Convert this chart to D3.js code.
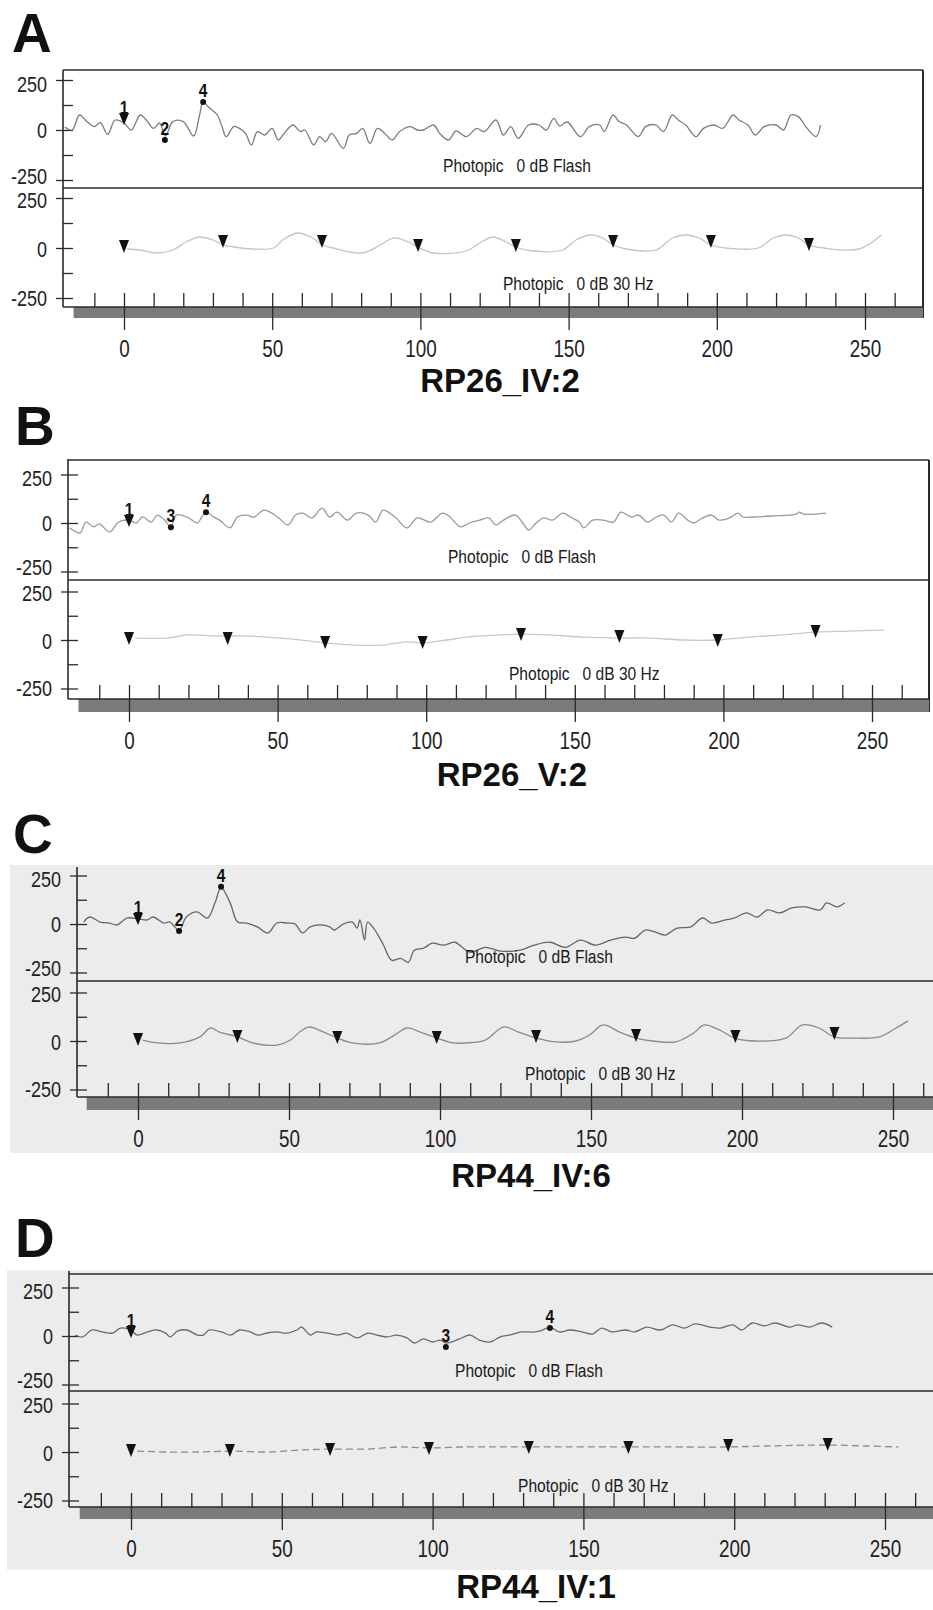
<!DOCTYPE html>
<html>
<head>
<meta charset="utf-8">
<script src="https://cdn.jsdelivr.net/npm/d3@7"></script>
<style>
  body { margin: 0; background: #fff; }
  svg { display: block; }
</style>
</head>
<body>
<svg id="fig" width="933" height="1610"></svg>
<script>
// ---- data: [time ms, amplitude uV] ----

// A  RP26_IV:2
const flashA = [[-20,15],[-17.5,0],[-15,75],[-12.5,42],[-10,17],[-8,37],[-5.5,-22],[-3,50],[0,35],[2.5,0],[5.5,75],[7.5,50],[10,8],[12,35],[14,-30],[16.5,42],[20,42],[23.5,-30],[25.5,75],[26.7,140],[28.5,115],[31.5,75],[33,20],[34.5,-33],[37,17],[39,8],[41,-17],[43,-75],[45,-8],[47.5,-25],[50,8],[52,-50],[54.5,-8],[57,25],[59.5,-8],[61,0],[64,-75],[66,-33],[68,-58],[70,-17],[74,-92],[76,-25],[78.5,-17],[80.5,8],[83,-67],[85.5,8],[88,-17],[90.5,-50],[93,-8],[96.5,17],[99,0],[101,0],[104.5,25],[106.5,-17],[109.5,-50],[112,-5],[115.5,-33],[119,8],[121.5,-8],[125.5,50],[128,-25],[130.5,17],[133,-42],[136.5,25],[140,25],[142.5,0],[145,58],[147,20],[149.5,40],[154,-33],[157,17],[160.5,25],[162,-8],[165,75],[167,42],[169.5,25],[173.5,-33],[176,17],[179.5,25],[182,-8],[185,75],[187,50],[189.5,25],[193,-33],[195.5,8],[199,25],[202,8],[205.5,75],[207.5,50],[210.5,25],[213,-25],[216,17],[220,25],[222.5,0],[225,75],[227.5,67],[230,17],[233.5,-33],[235,25]];
const flickerA = [[1,-5],[5.5,-10],[11,-25],[16.5,-10],[21,30],[25.5,55],[30,40],[33.5,15],[37,5],[43.5,-5],[50.5,0],[53.5,40],[58.5,75],[63,55],[67,15],[70.5,0],[80.5,-25],[86.5,15],[91,50],[96,30],[99,5],[104.5,-25],[115.5,-15],[120,25],[124.5,55],[129,30],[132,5],[138,-15],[148,-10],[152.5,40],[157,65],[161.5,50],[165,15],[169.5,-5],[179.5,-10],[185,50],[189.5,65],[194,50],[198,15],[203,0],[214,0],[219,50],[223.5,65],[227.5,50],[231,15],[236,0],[248,-5],[255.5,65]];
const flashMarksA = [["1",0,25,"tri"],["2",13.8,-50,"dot"],["4",26.7,140,"dot"]];
const flickerMarksA = [[0,-25],[33.4,0],[66.8,0],[99.2,-20],[132.2,-20],[165,0],[198,0],[231.1,-15]];

// B  RP26_V:2
const flashB = [[-20,-25],[-16.5,-51],[-14.5,5],[-12,-20],[-10,-5],[-6.5,-46],[-3.5,5],[0,15],[2.5,0],[4.5,31],[7.5,5],[9.5,41],[12,15],[14,-20],[16,41],[19.5,31],[23,0],[24.5,31],[26,56],[28.5,31],[30.5,15],[34,-25],[36.5,31],[39.5,41],[42,30],[45.5,66],[50,31],[53.5,-10],[56,41],[58.5,51],[61.5,26],[65,77],[67.5,31],[70,56],[73.5,15],[76.5,51],[80.5,41],[83,5],[85.5,66],[89.5,31],[93.5,-25],[97,26],[101.5,5],[105.5,51],[108,31],[111.5,-20],[114.5,0],[118,15],[121,26],[123.5,-10],[126,15],[130,41],[132.5,0],[134.5,-36],[137,0],[139.5,26],[142.5,15],[146,51],[148.5,31],[151.5,5],[153,-25],[156,15],[159.5,15],[163,5],[165.5,56],[169,31],[171.5,41],[174.5,5],[177.5,31],[180,41],[182.5,5],[185,51],[188,15],[190,0],[193,26],[196,41],[198.5,15],[202,26],[205,51],[206.5,31],[210,31],[216.5,36],[224.5,46],[225.5,56],[227,46],[234.5,51]];
const flickerB = [[2,10],[13,10],[19.5,26],[28.5,21],[33,20],[37.5,21],[46.5,15],[55,5],[66,-15],[75.5,-26],[85.5,-26],[93.5,-10],[99,-15],[107,0],[113.5,15],[124.5,26],[132,30],[141.5,26],[153,15],[165,10],[175,10],[186.5,0],[198,0],[208.5,15],[220,26],[231,41],[242.5,46],[254,51]];
const flashMarksB = [["1",0,-20,"tri"],["3",14.1,-22,"dot"],["4",25.9,56,"dot"]];
const flickerMarksB = [[0,-26],[33.2,-26],[66,-46],[98.8,-46],[131.9,-5],[165,-15],[198.1,-36],[231,10]];

// C  RP44_IV:6
const flashC = [[-18,10],[-16,36],[-12.5,10],[-9.5,5],[-7,-5],[-3.5,31],[0,26],[3,21],[5,36],[8.5,5],[10.5,10],[13.6,-31],[16,36],[19.5,62],[23,31],[25.5,109],[27.5,187],[30.5,109],[33,10],[36,5],[39.5,-15],[43,-46],[46,5],[49.5,5],[52,0],[54.5,-46],[57,-15],[60.5,-5],[63.5,-15],[65,-31],[68,0],[71,10],[72.5,-21],[73.5,21],[75,-83],[76,10],[78,-21],[81,-99],[84,-187],[87,-177],[89.5,-198],[91.5,-135],[94.5,-125],[97.5,-99],[101,-109],[105,-94],[106.5,-109],[110,-146],[115,-120],[120,-140],[126.5,-135],[131,-110],[136.5,-94],[141.5,-120],[146.5,-83],[151.5,-109],[156.5,-83],[161.5,-68],[164.5,-73],[168,-31],[172,-46],[174.5,-57],[178.5,-21],[183,-15],[187,31],[190,5],[194.5,21],[197.5,31],[201.5,57],[205,36],[208.5,73],[212.5,57],[216.5,83],[221,88],[226,73],[228,109],[231.5,88],[234,109]];
const flickerC = [[1.5,5],[6.5,-10],[14,-10],[20.5,21],[24,67],[27,46],[33,21],[38,-10],[46,-21],[50.5,5],[53.5,46],[56.5,72],[61.5,46],[66,15],[71,-10],[80,-10],[86,41],[89,67],[93.5,46],[99,15],[104.5,-10],[108.5,-10],[115,5],[121,72],[126,46],[132,15],[138.5,-5],[145,0],[149.5,31],[154,83],[159.5,46],[165,15],[170.5,0],[178,-5],[184,41],[187.5,83],[192.5,57],[197.5,15],[204.5,0],[214.5,15],[220,83],[225.5,67],[230.5,21],[237,15],[245.5,21],[251,67],[255,104]];
const flashMarksC = [["1",0,-5,"tri"],["2",13.6,-36,"dot"],["4",27.5,192,"dot"]];
const flickerMarksC = [[0,-26],[32.9,-10],[66,-15],[98.9,-15],[131.8,-10],[164.9,-5],[197.8,-10],[230.6,5]];

// D  RP44_IV:1
const flashD = [[-18.5,5],[-16,-5],[-13,31],[-9.5,21],[-6,15],[-3.5,41],[0,31],[2,5],[5.5,21],[8.5,31],[11.5,15],[13,-5],[15.5,26],[18.5,31],[22,5],[24,5],[26,31],[30,21],[33,5],[36,31],[39.5,21],[42,5],[45,15],[48.5,21],[51.5,15],[55,31],[56.5,46],[59.5,5],[61.5,21],[65,15],[68.5,5],[71.5,15],[75,-10],[78.5,15],[81.5,5],[85,-5],[88,5],[91.5,-10],[94,-36],[97,-15],[100,-31],[102.5,-21],[104.5,-36],[108.5,-18],[112.5,5],[115.5,-21],[119,-31],[122.5,-5],[125.5,5],[129.5,21],[134,21],[136.5,31],[139,46],[142,21],[145.5,31],[149.5,21],[153,10],[156,41],[159.5,21],[164,31],[167,21],[171,46],[175.5,31],[179.5,57],[183.5,41],[187,62],[192,46],[195.5,41],[199.5,57],[202.5,31],[206,67],[210,52],[213.5,67],[218.5,46],[221,57],[225,46],[229,67],[232.5,46]];
const flickerD = [[2,5],[12,0],[23,0],[33,5],[45,0],[56,10],[66,15],[78,15],[89,26],[99,21],[111,26],[122,26],[132,26],[144,26],[165,26],[177.5,26],[198,26],[210.5,31],[231,36],[243.5,31],[254.5,26]];
const flashMarksD = [["1",0,-10,"tri"],["3",104.4,-57,"dot"],["4",138.9,41,"dot"]];
const flickerMarksD = [[0,-26],[32.8,-26],[66,-21],[98.8,-15],[131.9,-10],[164.9,-10],[198,0],[231,5]];

const panelLetters = ["A", "B", "C", "D"];
const panelTitles = ["RP26_IV:2", "RP26_V:2", "RP44_IV:6", "RP44_IV:1"];
const yTicksMajor = [-250, 0, 250];
const yTicksAll = [-250, -125, 0, 125, 250];
const xTicksMajor = [0, 50, 100, 150, 200, 250];
const xTicksMinor = d3.range(-10, 261, 10);
const flashLabel = "Photopic\u00a0\u00a0 0 dB Flash";
const flickerLabel = "Photopic\u00a0\u00a0 0 dB 30 Hz";

// ---- page layout (pixels) for each scanned panel ----
const layouts = [
  { letter: [12, 52], left: 63, top: 70, right: 923, frameTop: 70, rightBorder: true,
    x0: 124, x250: 865, flashZero: 130, divider: 188, flickerZero: 248, px250: 50,
    axisY: 307, barBottom: 318, title: [500, 392], bg: null,
    flashText: [443, 172], flickerText: [503, 290],
    flashColor: "#7c7c7c", flickerColor: "#c4c4c4", flickerDash: null },
  { letter: [15, 445], left: 68, top: 459, right: 929, frameTop: 460, rightBorder: true,
    x0: 129, x250: 872, flashZero: 523, divider: 580, flickerZero: 640, px250: 48.5,
    axisY: 699, barBottom: 712, title: [512, 786], bg: null,
    flashText: [448, 563], flickerText: [509, 680],
    flashColor: "#9a9a9a", flickerColor: "#c8c8c8", flickerDash: null },
  { letter: [13, 853], left: 77, top: 867, right: 933, frameTop: null, rightBorder: false,
    x0: 138, x250: 893, flashZero: 924, divider: 981, flickerZero: 1041, px250: 48.5,
    axisY: 1097, barBottom: 1110, title: [531, 1187], bg: [10, 865, 933, 1153],
    flashText: [465, 963], flickerText: [525, 1080],
    flashColor: "#666", flickerColor: "#8a8a8a", flickerDash: null },
  { letter: [15, 1257], left: 69, top: 1271, right: 933, frameTop: 1274, rightBorder: false,
    x0: 131, x250: 885, flashZero: 1336, divider: 1391, flickerZero: 1452, px250: 48.5,
    axisY: 1507, barBottom: 1519, title: [536, 1598], bg: [7, 1270, 933, 1570],
    flashText: [455, 1377], flickerText: [518, 1492],
    flashColor: "#6a6a6a", flickerColor: "#8c8c8c", flickerDash: "7,4" }
];

// small vertical nudges of the y tick labels, as printed
const flashLabelShift = { "250": 4, "0": 0, "-250": -4 };
const flickerLabelShift = { "250": 2, "0": 1, "-250": 0 };

const flashes = [flashA, flashB, flashC, flashD];
const flickers = [flickerA, flickerB, flickerC, flickerD];
const flashMarks = [flashMarksA, flashMarksB, flashMarksC, flashMarksD];
const flickerMarks = [flickerMarksA, flickerMarksB, flickerMarksC, flickerMarksD];

const svg = d3.select("#fig");
const NARROW = '"Liberation Sans Narrow","Arial Narrow",sans-serif';
const WIDE = '"Liberation Sans",Arial,sans-serif';

// Check once whether a narrow face exists; otherwise squeeze the regular one
const narrowOK = (() => {
  const t = svg.append("text").attr("font-size", 40).text("Photopic 0 dB Flash");
  t.attr("font-family", '"Liberation Sans Narrow"');
  const w1 = t.node().getComputedTextLength();
  t.attr("font-family", '"Liberation Sans"');
  const w2 = t.node().getComputedTextLength();
  t.remove();
  return w1 < 0.9 * w2;
})();

function condense(sel)
{
  if (narrowOK) {
    sel.attr("font-family", NARROW);
    return;
  }
  sel.attr("font-family", WIDE).each(function () {
    const x = +this.getAttribute("x") || 0;
    this.setAttribute("transform", `translate(${x},0) scale(0.82,1) translate(${-x},0)`);
  });
}

const plain = d => d < 0 ? "-" + Math.abs(d) : String(d);

function drawPanel(i)
{
  const L = layouts[i];
  const g = svg.append("g");

  // scanned grey paper for C and D
  if (L.bg) {
    g.append("rect")
      .attr("x", L.bg[0]).attr("y", L.bg[1])
      .attr("width", L.bg[2] - L.bg[0]).attr("height", L.bg[3] - L.bg[1])
      .attr("fill", "#ececec");
  }

  const x = d3.scaleLinear().domain([0, 250]).range([L.x0, L.x250]);
  const yFlash = d3.scaleLinear().domain([-250, 250])
    .range([L.flashZero + L.px250, L.flashZero - L.px250]);
  const yFlicker = d3.scaleLinear().domain([-250, 250])
    .range([L.flickerZero + L.px250, L.flickerZero - L.px250]);

  // panel letter
  g.append("text")
    .attr("x", L.letter[0]).attr("y", L.letter[1])
    .attr("font-family", WIDE).attr("font-weight", "bold").attr("font-size", 55)
    .attr("fill", "#111")
    .text(panelLetters[i]);

  // frame
  const ink = "#2a2a2a";
  if (L.frameTop !== null) {
    g.append("line").attr("x1", L.left).attr("x2", L.right)
      .attr("y1", L.frameTop).attr("y2", L.frameTop)
      .attr("stroke", ink).attr("stroke-width", 1.3);
  }
  if (L.rightBorder) {
    g.append("line").attr("x1", L.right).attr("x2", L.right)
      .attr("y1", L.frameTop).attr("y2", L.barBottom)
      .attr("stroke", ink).attr("stroke-width", 2);
  }
  g.append("line").attr("x1", L.left).attr("x2", L.right)
    .attr("y1", L.divider).attr("y2", L.divider)
    .attr("stroke", ink).attr("stroke-width", 1.3);

  // grey time bar
  g.append("rect")
    .attr("x", x(-17)).attr("y", L.axisY)
    .attr("width", L.right - x(-17)).attr("height", L.barBottom - L.axisY)
    .attr("fill", "#7b7b7b");

  g.append("line").attr("x1", L.left).attr("x2", L.right)
    .attr("y1", L.axisY).attr("y2", L.axisY)
    .attr("stroke", ink).attr("stroke-width", 1.6);
  g.append("line").attr("x1", L.left).attr("x2", L.left)
    .attr("y1", L.top).attr("y2", L.axisY)
    .attr("stroke", ink).attr("stroke-width", 1.6);

  // y axes (flash on top, 30 Hz below)
  for (const [y, shift] of [[yFlash, flashLabelShift], [yFlicker, flickerLabelShift]]) {
    const labels = g.append("g")
      .attr("transform", `translate(${L.left},0)`)
      .call(d3.axisLeft(y).tickValues(yTicksMajor).tickSize(7).tickPadding(9)
        .tickFormat(plain));
    const inner = g.append("g")
      .attr("transform", `translate(${L.left},0)`)
      .call(d3.axisRight(y).tickValues(yTicksAll).tickSize(10).tickFormat(""));
    for (const a of [labels, inner]) {
      a.select(".domain").remove();
      a.selectAll("line").attr("stroke", ink).attr("stroke-width", 1.3);
    }
    labels.selectAll("text")
      .attr("font-size", 22).attr("fill", "#222")
      .attr("y", d => shift[String(d)]);
    condense(labels.selectAll("text"));
  }

  // x axis: minor ticks above the bar, major ticks through it with labels
  const minor = g.append("g")
    .attr("transform", `translate(0,${L.axisY})`)
    .call(d3.axisTop(x).tickValues(xTicksMinor).tickSize(14).tickFormat(""));
  const major = g.append("g")
    .attr("transform", `translate(0,${L.axisY})`)
    .call(d3.axisBottom(x).tickValues(xTicksMajor).tickSize(23).tickPadding(11)
      .tickFormat(plain));
  for (const a of [minor, major]) {
    a.select(".domain").remove();
    a.selectAll("line").attr("stroke", ink).attr("stroke-width", 1.3);
  }
  major.selectAll("text").attr("font-size", 23).attr("fill", "#222");
  condense(major.selectAll("text"));

  // traces
  const curve = d3.curveCatmullRom.alpha(0.5);
  const flashLine = d3.line().x(d => x(d[0])).y(d => yFlash(d[1])).curve(curve);
  const flickerLine = d3.line().x(d => x(d[0])).y(d => yFlicker(d[1])).curve(curve);

  g.append("path").datum(flashes[i])
    .attr("d", flashLine)
    .attr("fill", "none").attr("stroke", L.flashColor).attr("stroke-width", 1.3);
  g.append("path").datum(flickers[i])
    .attr("d", flickerLine)
    .attr("fill", "none").attr("stroke", L.flickerColor).attr("stroke-width", 1.3)
    .attr("stroke-dasharray", L.flickerDash);

  // flash markers: triangle for 1, dots for the others
  const marks = g.append("g").attr("fill", "#111");
  for (const [label, t, v, shape] of flashMarks[i]) {
    const px = x(t), py = yFlash(v);
    let labelY;
    if (shape === "tri") {
      marks.append("path")
        .attr("d", `M${px - 5},${py - 12}L${px + 5},${py - 12}L${px},${py}Z`);
      labelY = py - 11;
    } else {
      marks.append("circle").attr("cx", px).attr("cy", py).attr("r", 3);
      labelY = py - 5;
    }
    const lt = marks.append("text")
      .attr("x", px).attr("y", labelY)
      .attr("text-anchor", "middle").attr("font-size", 19).attr("font-weight", "bold")
      .text(label);
    condense(lt);
  }

  // 30 Hz trough markers
  marks.selectAll("path.tick30")
    .data(flickerMarks[i])
    .join("path")
    .attr("class", "tick30")
    .attr("d", d => {
      const px = x(d[0]), py = yFlicker(d[1]);
      return `M${px - 5},${py - 13}L${px + 5},${py - 13}L${px},${py}Z`;
    });

  // trace captions
  const caps = g.append("g").attr("fill", "#1a1a1a").attr("font-size", 19);
  caps.append("text").attr("x", L.flashText[0]).attr("y", L.flashText[1]).text(flashLabel);
  caps.append("text").attr("x", L.flickerText[0]).attr("y", L.flickerText[1]).text(flickerLabel);
  condense(caps.selectAll("text"));

  // subject id
  g.append("text")
    .attr("x", L.title[0]).attr("y", L.title[1])
    .attr("text-anchor", "middle")
    .attr("font-family", WIDE).attr("font-weight", "bold").attr("font-size", 33)
    .attr("fill", "#111")
    .text(panelTitles[i]);
}

layouts.forEach((L, i) => drawPanel(i));
</script>
</body>
</html>
